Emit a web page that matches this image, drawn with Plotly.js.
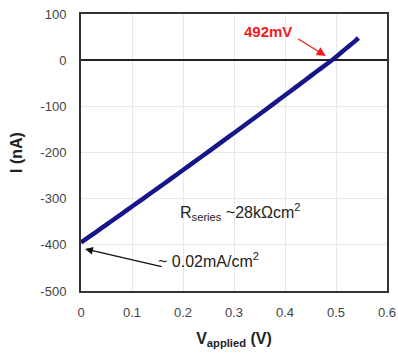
<!DOCTYPE html>
<html>
<head>
<meta charset="utf-8">
<script src="https://cdn.plot.ly/plotly-3.0.1.min.js"></script>
<style>html,body{margin:0;padding:0;background:#fff;}#chart{width:398px;height:361px;}</style>
</head>
<body>
<div id="chart"></div>
<script>
// Data (V in volts, I in nA)
const voltage = [0, 0.02, 0.04, 0.06, 0.08, 0.10, 0.12, 0.14, 0.16, 0.18, 0.20, 0.22, 0.24, 0.26, 0.28, 0.30, 0.32, 0.34, 0.36, 0.38, 0.40, 0.42, 0.44, 0.46, 0.48, 0.492, 0.50, 0.52, 0.54, 0.544];
const current = [-395, -379.5, -364, -348.4, -332.8, -317, -301.4, -285.6, -269.8, -253.9, -238, -222, -206, -189.9, -173.8, -157.7, -141.5, -125.2, -108.9, -92.5, -76, -59.6, -43, -26.3, -10, 0, 7, 25.5, 44, 48];
const xTicks = [0, 0.1, 0.2, 0.3, 0.4, 0.5, 0.6];
const xTickText = ['0', '0.1', '0.2', '0.3', '0.4', '0.5', '0.6'];
const yTicks = [-500, -400, -300, -200, -100, 0, 100];
const yTickText = ['-500', '-400', '-300', '-200', '-100', '0', '100'];
const vocLabel = '492mV';
const vocPoint = [0.480, 9];
const rsLabel = 'R<sub>series</sub> ~28kΩcm<sup>2</sup>';
const jscLabel = '~ 0.02mA/cm<sup>2</sup>';
const jscPoint = [0.008, -409];

const FONT = 'Liberation Sans, Arial, sans-serif';

const trace = {
  x: voltage, y: current, type: 'scatter', mode: 'lines',
  line: {color: '#16168a', width: 4.5, shape: 'spline', smoothing: 0.6},
  hoverinfo: 'skip'
};

const layout = {
  width: 398, height: 361,
  margin: {l: 81, r: 11, t: 14, b: 70},
  paper_bgcolor: '#fff', plot_bgcolor: '#fff',
  showlegend: false,
  font: {family: FONT, color: '#333'},
  xaxis: {
    range: [0, 0.6], tickvals: xTicks, ticktext: xTickText,
    showgrid: true, gridcolor: '#e8e8e8', gridwidth: 1,
    zeroline: false, showline: true, linecolor: '#333', linewidth: 2, mirror: true,
    ticks: '', ticklabelstandoff: 8,
    tickfont: {family: FONT, size: 13, color: '#444'},
    title: {text: '<b>V<sub>applied</sub> (V)</b>', font: {family: FONT, size: 16, color: '#222'}, standoff: 14}
  },
  yaxis: {
    range: [-500, 100], tickvals: yTicks, ticktext: yTickText,
    showgrid: true, gridcolor: '#e8e8e8', gridwidth: 1,
    zeroline: true, zerolinecolor: '#222', zerolinewidth: 1.5,
    showline: true, linecolor: '#333', linewidth: 2, mirror: true,
    ticks: '', ticklabelstandoff: 10,
    tickfont: {family: FONT, size: 13, color: '#444'},
    title: {text: '<b>I (nA)</b>', font: {family: FONT, size: 16, color: '#222'}, standoff: 14}
  },
  annotations: [
    {x: 0.3667, y: 63, xref: 'x', yref: 'y', text: '<b>' + vocLabel + '</b>', showarrow: false,
     font: {family: FONT, size: 15, color: '#ee1c1c'}},
    {x: vocPoint[0], y: vocPoint[1], xref: 'x', yref: 'y', text: '', showarrow: true,
     ax: -29, ay: -18, arrowhead: 2, arrowsize: 1.4, arrowwidth: 1.3, arrowcolor: '#ee1c1c'},
    {x: 0.312, y: -328, xref: 'x', yref: 'y', text: rsLabel, showarrow: false,
     font: {family: FONT, size: 16, color: '#222'}},
    {x: 0.250, y: -433, xref: 'x', yref: 'y', text: jscLabel, showarrow: false,
     font: {family: FONT, size: 16, color: '#222'}},
    {x: jscPoint[0], y: jscPoint[1], xref: 'x', yref: 'y', text: '', showarrow: true,
     ax: 78, ay: 18, arrowhead: 2, arrowsize: 1.2, arrowwidth: 1.3, arrowcolor: '#111'}
  ]
};

Plotly.newPlot('chart', [trace], layout, {displayModeBar: false, staticPlot: true});
</script>
</body>
</html>
